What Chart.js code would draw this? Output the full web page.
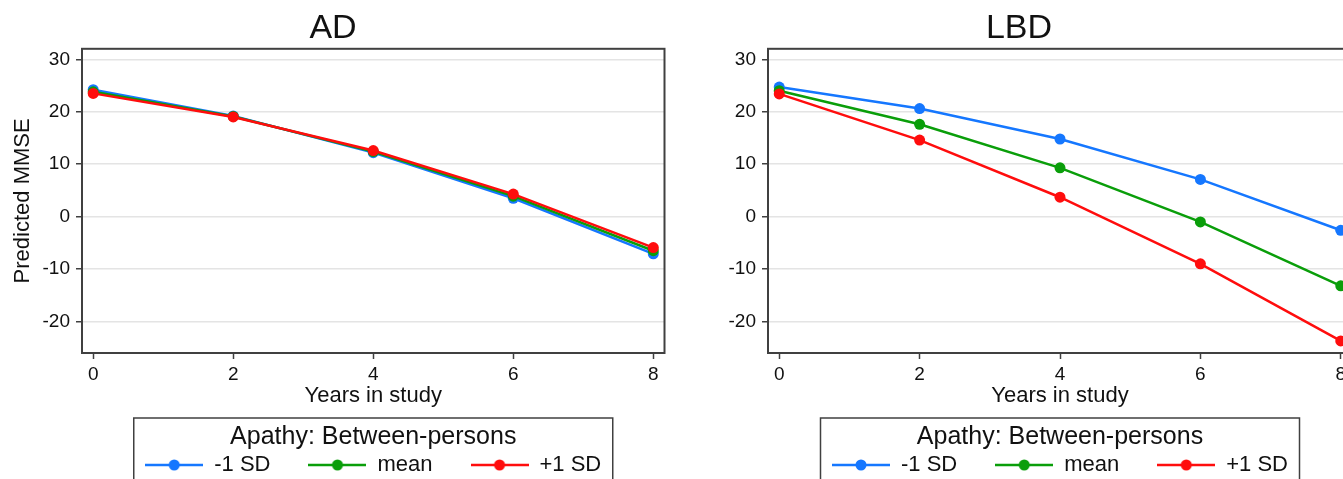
<!DOCTYPE html>
<html>
<head>
<meta charset="utf-8">
<title>Predicted MMSE by apathy</title>
<script src="https://cdn.jsdelivr.net/npm/chart.js@4.4.1/dist/chart.umd.min.js"></script>
<style>
  html, body { margin: 0; padding: 0; background: #fff; overflow: hidden; }
  body { width: 1343px; height: 479px; position: relative; }
  canvas { position: absolute; top: 0; }
  #adChart { left: 0; }
  #lbdChart { left: 686px; }
</style>
</head>
<body>
<canvas id="adChart" width="670" height="486"></canvas>
<canvas id="lbdChart" width="700" height="486"></canvas>
<script>
// Data
const years = [0, 2, 4, 6, 8];
const xTicks = [0, 2, 4, 6, 8];
const yTicks = [-20, -10, 0, 10, 20, 30];
const seriesLabels = ['-1 SD', 'mean', '+1 SD'];

const adLow = [24.2, 19.2, 12.2, 3.5, -7.1];
const adMean = [23.8, 19.1, 12.4, 3.9, -6.5];
const adHigh = [23.5, 19.0, 12.6, 4.3, -5.9];

const lbdLow = [24.7, 20.6, 14.8, 7.1, -2.6];
const lbdMean = [24.0, 17.6, 9.3, -1.0, -13.2];
const lbdHigh = [23.4, 14.6, 3.7, -9.0, -23.7];

const colors = ['#1577ff', '#0a9e0a', '#ff0d0d'];
const FONT = "'Liberation Sans', Arial, sans-serif";
const INK = '#111';
const FRAME = '#404040';

Chart.defaults.font.family = FONT;
Chart.defaults.color = INK;

// little line-with-dot symbol for the legend, like Stata draws it
function legendSymbol(color) {
    const c = document.createElement('canvas');
    c.width = 58;
    c.height = 14;
    const g = c.getContext('2d');
    g.strokeStyle = color;
    g.lineWidth = 2.5;
    g.beginPath();
    g.moveTo(0, 7);
    g.lineTo(58, 7);
    g.stroke();
    g.fillStyle = color;
    g.beginPath();
    g.arc(29, 7, 5.5, 0, Math.PI * 2);
    g.fill();
    return c;
}

// plot frame + box round the legend
const stataFrame = {
    id: 'stataFrame',
    afterDraw(chart) {
        const ctx = chart.ctx;
        const a = chart.chartArea;
        ctx.save();
        ctx.strokeStyle = FRAME;
        ctx.lineWidth = 2;
        ctx.strokeRect(a.left, a.top, a.right - a.left, a.bottom - a.top);
        const lg = chart.legend;
        const cx = (a.left + a.right) / 2;
        ctx.lineWidth = 1.5;
        ctx.strokeRect(cx - 239.5, lg.top, 479, 120);
        ctx.restore();
    }
};

function makeChart(id, title, low, mean, high, yTitle, padRight) {
    const series = [low, mean, high];
    const datasets = series.map((vals, i) => ({
        label: seriesLabels[i],
        data: years.map((x, j) => ({ x: x, y: vals[j] })),
        borderColor: colors[i],
        backgroundColor: colors[i],
        pointBackgroundColor: colors[i],
        pointBorderColor: colors[i],
        borderWidth: 2.5,
        pointRadius: 5.5,
        pointBorderWidth: 0,
        tension: 0,
        order: 2 - i   // red on top
    }));

    return new Chart(document.getElementById(id), {
        type: 'line',
        data: { datasets: datasets },
        options: {
            responsive: false,
            animation: false,
            layout: { padding: { left: 0, right: padRight, top: 0, bottom: 0 } },
            plugins: {
                title: {
                    display: true,
                    text: title,
                    color: INK,
                    font: { size: 34, weight: 'normal' },
                    padding: { top: 8, bottom: 0 }
                },
                legend: {
                    position: 'bottom',
                    fullSize: false,
                    title: {
                        display: true,
                        text: 'Apathy: Between-persons',
                        color: INK,
                        font: { size: 25 },
                        padding: { top: 7, bottom: -39 }
                    },
                    labels: {
                        usePointStyle: true,
                        pointStyleWidth: 58,
                        padding: 38,
                        color: INK,
                        font: { size: 22 },
                        generateLabels: chart => chart.data.datasets.map((ds, i) => ({
                            text: ds.label,
                            pointStyle: legendSymbol(ds.borderColor),
                            fillStyle: ds.borderColor,
                            strokeStyle: ds.borderColor,
                            lineWidth: 0,
                            fontColor: INK,
                            hidden: false,
                            datasetIndex: i
                        }))
                    }
                },
                tooltip: { enabled: false }
            },
            scales: {
                x: {
                    type: 'linear',
                    min: -0.16,
                    max: 8.16,
                    afterBuildTicks: s => { s.ticks = xTicks.map(v => ({ value: v })); },
                    afterFit: s => { s.height = 65; },
                    ticks: { font: { size: 19 }, color: INK, padding: 4 },
                    grid: { drawOnChartArea: false, tickLength: 6, tickColor: FRAME, tickWidth: 1.5 },
                    border: { color: FRAME, width: 2 },
                    title: {
                        display: true,
                        text: 'Years in study',
                        color: INK,
                        font: { size: 22 },
                        padding: { top: 9, bottom: 9 }
                    }
                },
                y: {
                    min: -26,
                    max: 32,
                    afterBuildTicks: s => { s.ticks = yTicks.map(v => ({ value: v })); },
                    afterFit: s => { s.width = 82; },
                    ticks: { font: { size: 19 }, color: INK, padding: 6 },
                    grid: { color: '#e4e4e4', lineWidth: 1.5, tickLength: 6, tickColor: FRAME, tickWidth: 1.5 },
                    border: { color: FRAME, width: 2 },
                    title: {
                        display: yTitle,
                        text: 'Predicted MMSE',
                        color: INK,
                        font: { size: 22 },
                        padding: { top: 10, bottom: 10 }
                    }
                }
            }
        },
        plugins: [stataFrame]
    });
}

makeChart('adChart', 'AD', adLow, adMean, adHigh, true, 4);
makeChart('lbdChart', 'LBD', lbdLow, lbdMean, lbdHigh, false, 34);
</script>
</body>
</html>
